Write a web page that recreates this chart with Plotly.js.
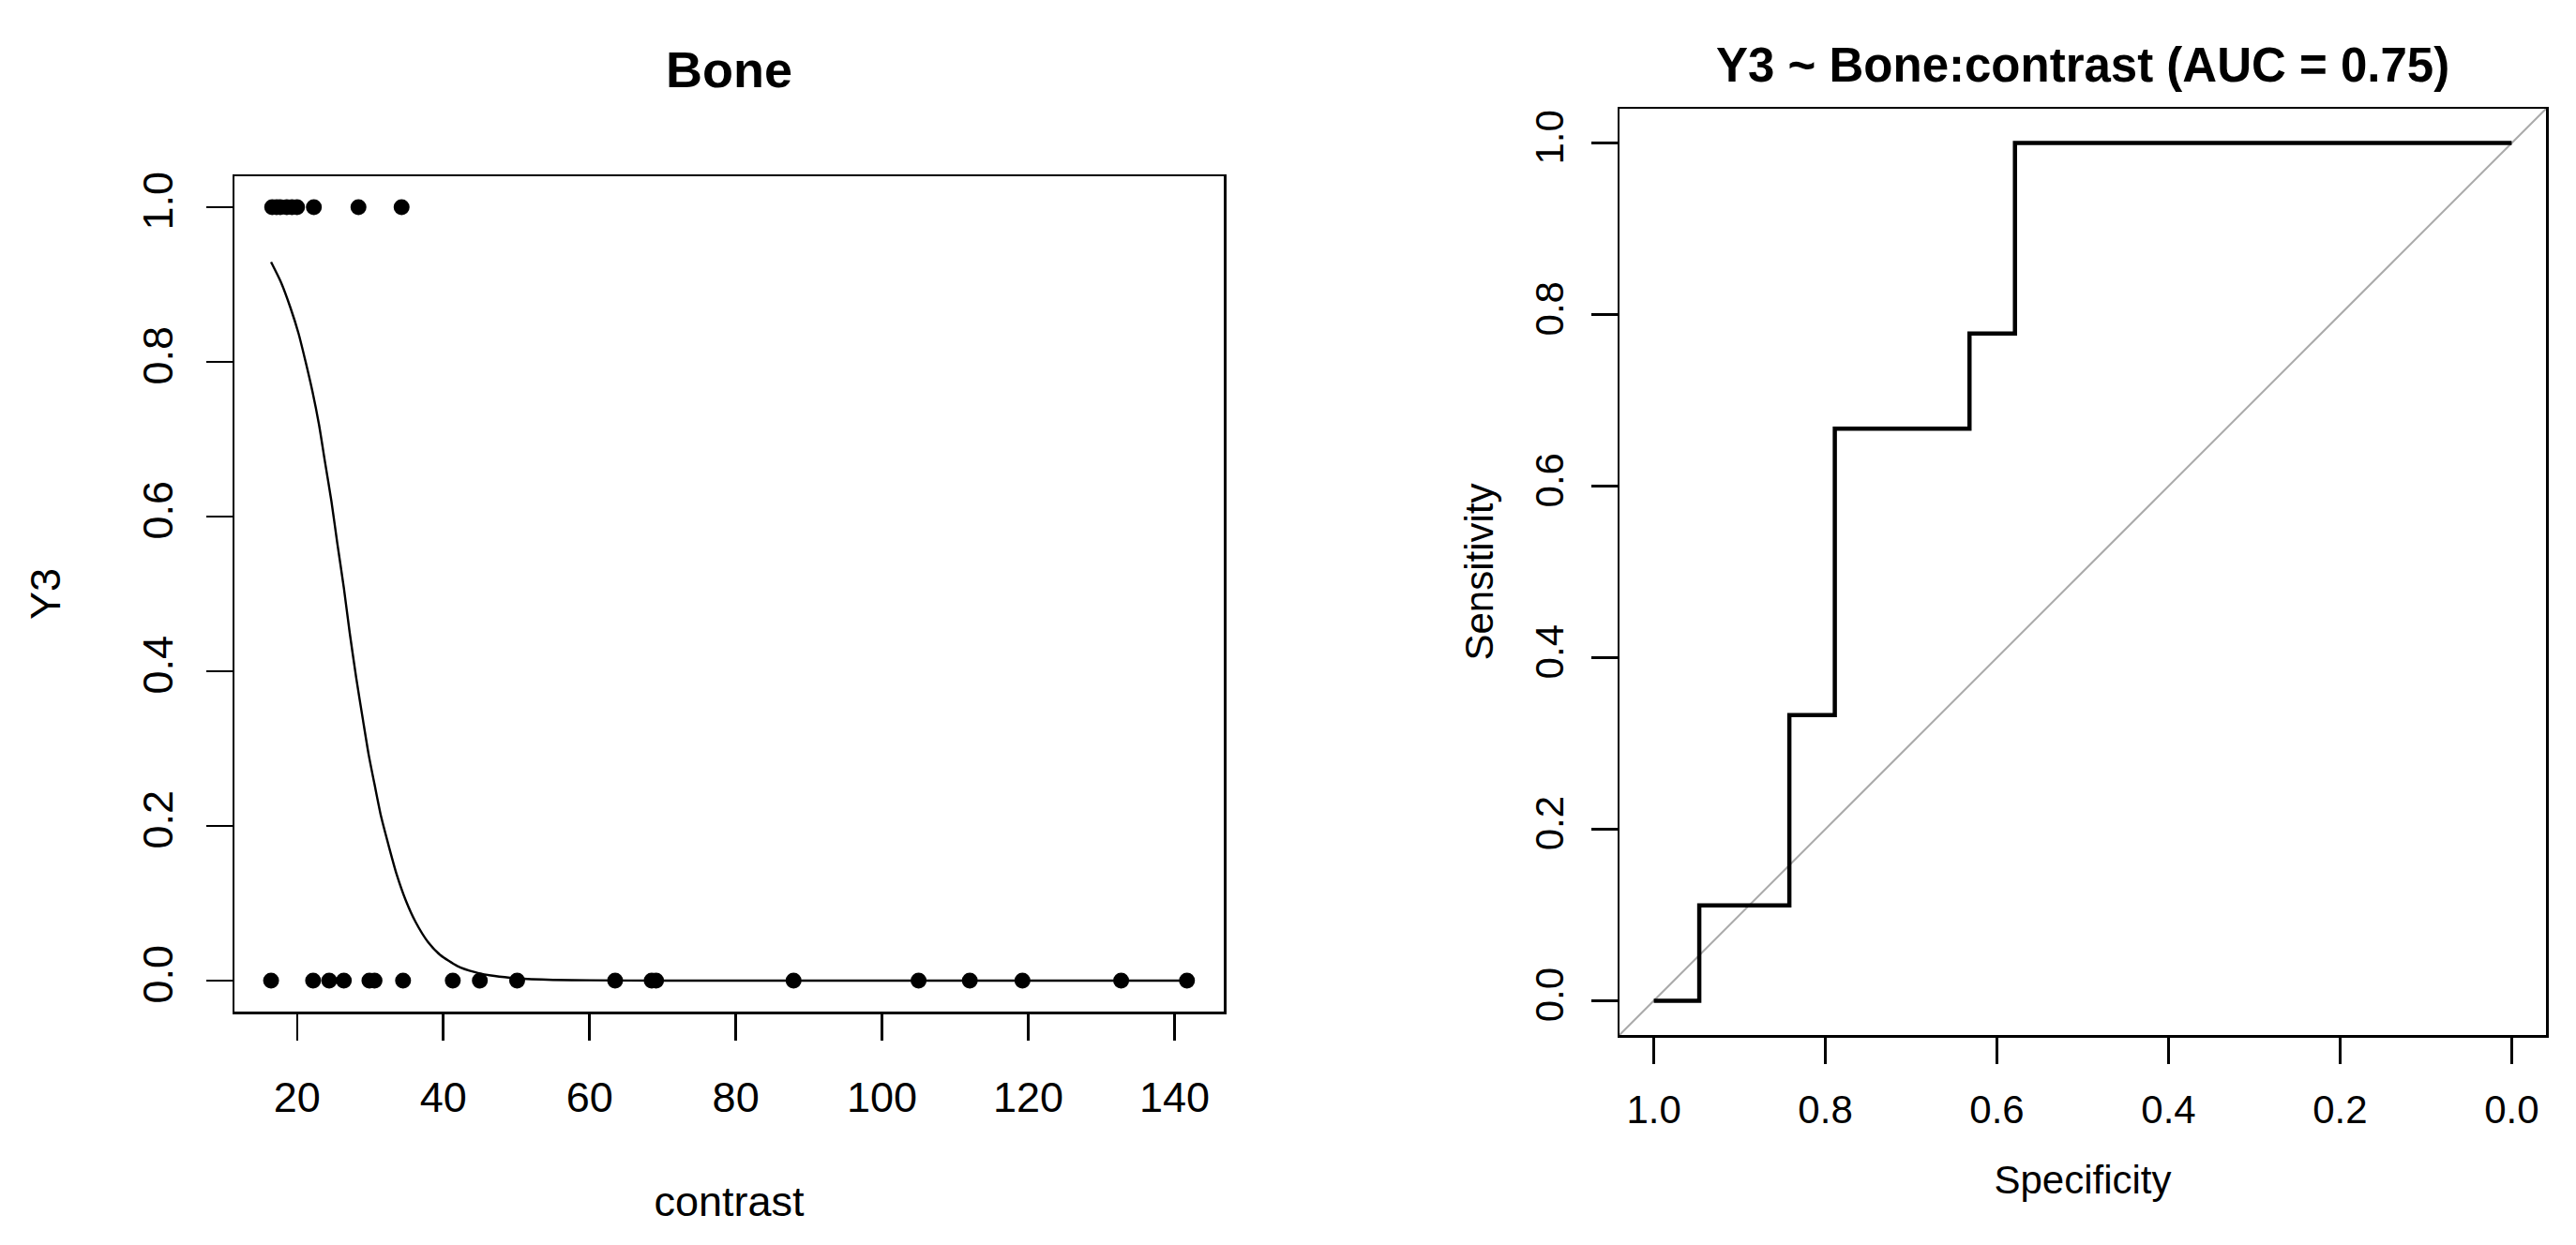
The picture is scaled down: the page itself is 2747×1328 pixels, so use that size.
<!DOCTYPE html>
<html>
<head>
<meta charset="utf-8">
<script src="https://cdn.plot.ly/plotly-3.0.1.min.js"></script>
<style>html,body{margin:0;padding:0;background:#fff;}#chart{width:2747px;height:1328px;}</style>
</head>
<body>
<div id="chart"></div>
<script>
// ---- Left panel: observed outcome vs contrast ----
const contrastPos = [16.6, 17.2, 17.7, 18.6, 19.3, 20.0, 22.3, 28.4, 34.3];
const y3Pos = [1, 1, 1, 1, 1, 1, 1, 1, 1];
const contrastNeg = [16.45, 22.2, 24.4, 26.4, 29.9, 30.6, 34.5, 41.3, 45.0, 50.1, 63.5, 68.5, 69.1,
                     87.9, 105.0, 112.0, 119.2, 132.7, 141.7];
const y3Neg = [0, 0, 0, 0, 0, 0, 0, 0, 0, 0, 0, 0, 0, 0, 0, 0, 0, 0, 0];
// fitted curve
const curveX = [16.45, 17.8, 19.1, 20.2, 21.2, 22.1, 23.0, 23.8, 24.7, 25.5, 26.4, 27.2, 28.1, 29.0, 29.8,
                30.7, 31.5, 32.6, 33.6, 34.9, 36.2, 37.9, 39.6, 41.9, 44.3, 47.0, 50.0, 55.0, 60.0, 70.0, 90.0, 120.0, 141.7];
const curveY = [0.929, 0.903, 0.870, 0.837, 0.799, 0.762, 0.719, 0.672, 0.620, 0.566, 0.508, 0.450, 0.391, 0.338, 0.292,
                0.249, 0.212, 0.172, 0.138, 0.103, 0.076, 0.050, 0.033, 0.019, 0.011, 0.006, 0.003, 0.001, 0.0004, 0.0, 0.0, 0.0, 0.0];

// ---- Right panel: ROC curve ----
const rocSpec = [1.0, 0.947, 0.947, 0.842, 0.842, 0.789, 0.789, 0.632, 0.632, 0.579, 0.579, 0.0];
const rocSens = [0.0, 0.0, 0.111, 0.111, 0.333, 0.333, 0.667, 0.667, 0.778, 0.778, 1.0, 1.0];
const chanceSpec = [1.04, -0.04];
const chanceSens = [-0.04, 1.04];

const tickVals01 = [0, 0.2, 0.4, 0.6, 0.8, 1.0];
const tickValsContrast = [20, 40, 60, 80, 100, 120, 140];

const FONT = 'Liberation Sans, Arial, Helvetica, sans-serif';

const traces = [
  {x: curveX, y: curveY, type: 'scatter', mode: 'lines', xaxis: 'x', yaxis: 'y',
   line: {color: '#000', width: 2.4, shape: 'spline', smoothing: 0.6}, hoverinfo: 'skip'},
  {x: contrastPos, y: y3Pos, type: 'scatter', mode: 'markers', xaxis: 'x', yaxis: 'y',
   marker: {color: '#000', size: 17, line: {width: 0}}},
  {x: contrastNeg, y: y3Neg, type: 'scatter', mode: 'markers', xaxis: 'x', yaxis: 'y',
   marker: {color: '#000', size: 17, line: {width: 0}}},
  {x: chanceSpec, y: chanceSens, type: 'scatter', mode: 'lines', xaxis: 'x2', yaxis: 'y2',
   line: {color: '#AAAAAA', width: 2}, hoverinfo: 'skip'},
  {x: rocSpec, y: rocSens, type: 'scatter', mode: 'lines', xaxis: 'x2', yaxis: 'y2',
   line: {color: '#000', width: 4.5}}
];

function axisBase(fs) {
  return {
    showline: true, linecolor: '#000', linewidth: 2.5, mirror: true,
    ticks: 'outside', ticklen: 28, tickwidth: 2.5, tickcolor: '#000',
    showgrid: false, zeroline: false, fixedrange: true,
    tickfont: {family: FONT, size: fs, color: '#000'}
  };
}

const layout = {
  width: 2747, height: 1328,
  margin: {l: 0, r: 0, t: 0, b: 0},
  paper_bgcolor: '#fff', plot_bgcolor: '#fff',
  showlegend: false,
  font: {family: FONT, color: '#000'},
  xaxis: Object.assign(axisBase(45), {
    domain: [250 / 2747, 1305 / 2747], anchor: 'y',
    range: [11.44, 146.73], tickmode: 'array', tickvals: tickValsContrast,
    ticklabelstandoff: 22,
    title: {text: 'contrast', font: {family: FONT, size: 45, color: '#000'}, standoff: 71}
  }),
  yaxis: Object.assign(axisBase(45), {
    domain: [(1328 - 1079) / 1328, (1328 - 188) / 1328], anchor: 'x',
    range: [-0.04, 1.04], tickmode: 'array', tickvals: tickVals01, tickformat: '.1f',
    tickangle: -90, ticklabelstandoff: 18,
    title: {text: 'Y3', font: {family: FONT, size: 45, color: '#000'}, standoff: 64}
  }),
  xaxis2: Object.assign(axisBase(42), {
    domain: [1727 / 2747, 2715 / 2747], anchor: 'y2',
    range: [1.04, -0.04], tickmode: 'array', tickvals: tickVals01, tickformat: '.1f',
    ticklabelstandoff: 13,
    title: {text: 'Specificity', font: {family: FONT, size: 42, color: '#000'}, standoff: 38}
  }),
  yaxis2: Object.assign(axisBase(42), {
    domain: [(1328 - 1104) / 1328, (1328 - 116) / 1328], anchor: 'x2',
    range: [-0.04, 1.04], tickmode: 'array', tickvals: tickVals01, tickformat: '.1f',
    tickangle: -90, ticklabelstandoff: 13,
    title: {text: 'Sensitivity', font: {family: FONT, size: 42, color: '#000'}, standoff: 23}
  }),
  annotations: [
    {text: '<b>Bone</b>', xref: 'paper', yref: 'paper', x: 777.5 / 2747, y: (1328 - 74) / 1328,
     xanchor: 'center', yanchor: 'middle', showarrow: false, font: {family: FONT, size: 54, color: '#000'}},
    {text: '<b>Y3 ~ Bone:contrast (AUC = 0.75)</b>', xref: 'paper', yref: 'paper', x: 2221 / 2747, y: (1328 - 70) / 1328,
     xanchor: 'center', yanchor: 'middle', showarrow: false, font: {family: FONT, size: 51, color: '#000'}}
  ]
};

Plotly.newPlot('chart', traces, layout, {displayModeBar: false, staticPlot: true});
</script>
</body>
</html>
